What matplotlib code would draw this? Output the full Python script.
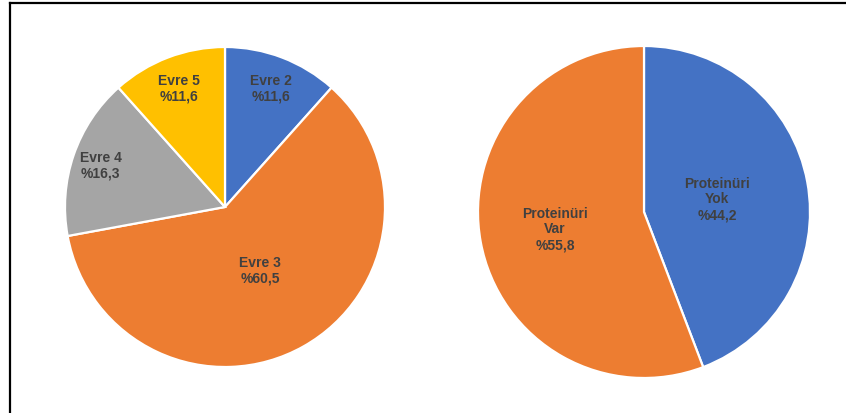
import numpy as np
import matplotlib
matplotlib.use("Agg")
import matplotlib.pyplot as plt
from matplotlib.lines import Line2D

plt.rcParams['font.family'] = ['Liberation Sans', 'DejaVu Sans']

# Stage distribution
stage_labels = ["Evre 2", "Evre 3", "Evre 4", "Evre 5"]
stage_values = [11.6, 60.5, 16.3, 11.6]
stage_colors = ["#4472C4", "#ED7D31", "#A5A5A5", "#FFC000"]
stage_label_dist = [0.80, 0.45, 0.82, 0.80]

# Proteinuria distribution
prot_labels = ["Proteinüri\nYok", "Proteinüri\nVar"]
prot_values = [44.2, 55.8]
prot_colors = ["#4472C4", "#ED7D31"]
prot_label_dist = [0.45, 0.545]

W, H = 846, 414
fig = plt.figure(figsize=(W / 100, H / 100), dpi=100)
ax = fig.add_axes([0, 0, 1, 1])
ax.set_xlim(0, W)
ax.set_ylim(0, H)
ax.set_aspect('equal')
ax.axis('off')

TEXT_COLOR = "#404040"


def fmt(v):
    return "%" + f"{v:.1f}".replace(".", ",")


def draw_pie(values, labels, colors, dists, center, radius):
    wedges, _ = ax.pie(values, colors=colors, startangle=90, counterclock=False,
                       center=center, radius=radius,
                       wedgeprops=dict(edgecolor="white", linewidth=1.6))
    for w, lab, val, d in zip(wedges, labels, values, dists):
        mid = np.deg2rad((w.theta1 + w.theta2) / 2)
        x = center[0] + d * radius * np.cos(mid)
        y = center[1] + d * radius * np.sin(mid)
        ax.text(x, y, f"{lab}\n{fmt(val)}", ha="center", va="center",
                fontsize=10, fontweight="bold", color=TEXT_COLOR,
                linespacing=1.15)


draw_pie(stage_values, stage_labels, stage_colors, stage_label_dist,
         (225, H - 208), 160)
draw_pie(prot_values, prot_labels, prot_colors, prot_label_dist,
         (644, H - 213), 166)

ax.set_xlim(0, W)
ax.set_ylim(0, H)

# Frame lines (top and left)
fig.add_artist(Line2D([10 / W, 1.0], [1 - 4 / H, 1 - 4 / H], transform=fig.transFigure,
                      color="black", linewidth=1.6))
fig.add_artist(Line2D([10 / W, 10 / W], [0, 1 - 4 / H], transform=fig.transFigure,
                      color="black", linewidth=1.6))

fig.savefig("out.png", dpi=100, facecolor="white")
